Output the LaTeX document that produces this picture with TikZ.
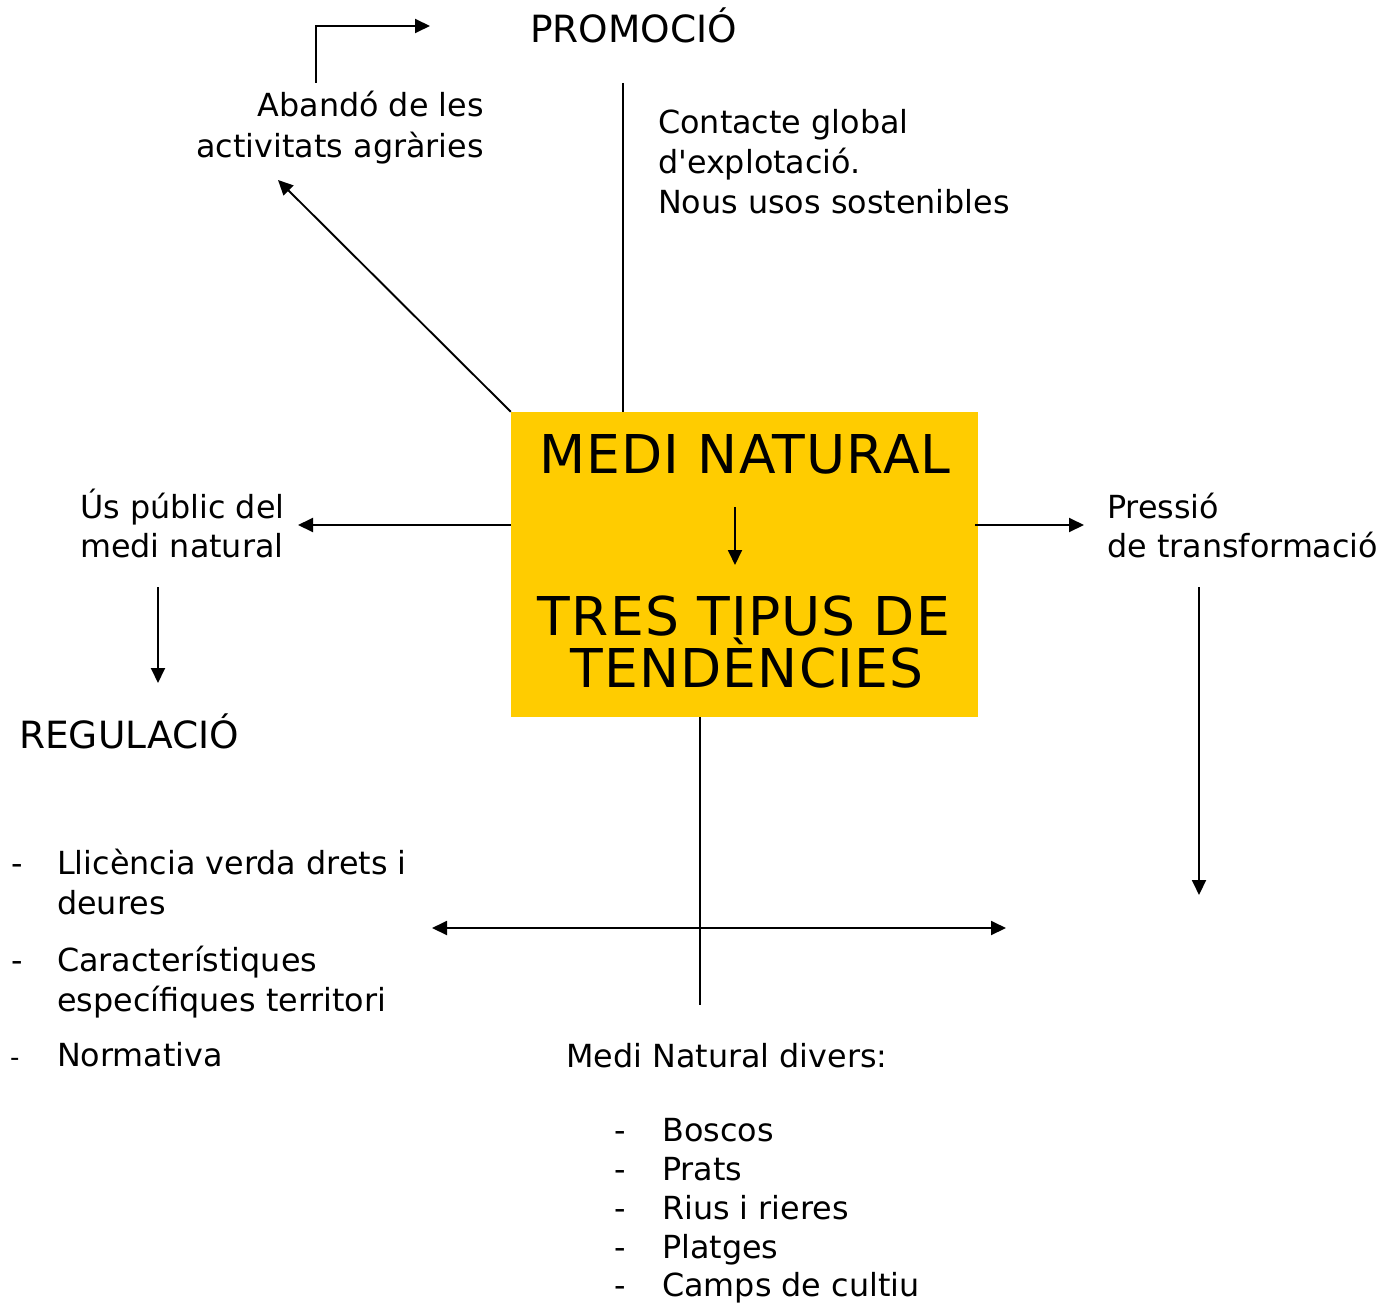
\documentclass[tikz,border=0pt]{standalone}
\usepackage{fontspec}
\setmainfont{DejaVu Sans}
\newfontfamily\plainfont{DejaVu Sans}
\newfontfamily\titlefont[LetterSpace=2.2]{DejaVu Sans}
\usetikzlibrary{arrows.meta,calc}
\definecolor{boxyellow}{RGB}{255,204,0}
\tikzset{
  body/.style={font=\fontsize{31.8}{38}\selectfont, inner sep=0pt, anchor=base west},
  bodyr/.style={body, anchor=base east},
  head/.style={font=\fontsize{37.5}{44}\selectfont, inner sep=0pt, anchor=base west},
  title/.style={font=\titlefont\fontsize{53.5}{60}\selectfont, inner sep=0pt, anchor=base},
  conn/.style={line width=1.9pt},
  arr/.style={conn, -{Triangle[length=15pt,width=14pt]}},
  dbl/.style={conn, {Triangle[length=15pt,width=14pt]}-{Triangle[length=15pt,width=14pt]}},
}
\begin{document}
\begin{tikzpicture}[x=1pt,y=-1pt]
\useasboundingbox (0,0) rectangle (1396,1303);
% central box
\node[fill=boxyellow, minimum width=467pt, minimum height=305pt, inner sep=0pt] (box) at (744.5,564.5) {};
\node[title] (t1) at (745,473) {MEDI NATURAL};
\node[title] (t2) at (744,635) {TRES TIPUS DE};
\node[title] (t3) at (747,687) {TENDÈNCIES};
\coordinate (ia) at (735,507);
\coordinate (ib) at (735,565);
\draw[arr] (ia) -- (ib);

% top
\node[head] (prom) at (530,43) {PROMOCIÓ};
\node[bodyr] (ab1) at (484,117) {Abandó de les};
\node[bodyr] (ab2) at (484,157) {activitats agràries};
\node[body] (ct1) at (658,133) {Contacte global};
\node[body, font=\plainfont\fontsize{31.8}{38}\selectfont] (ct2) at (658,173) {d'explotació.};
\node[body] (ct3) at (658,213) {Nous usos sostenibles};

% left / right
\node[body] (us1) at (80,518) {Ús públic del};
\node[body] (us2) at (80,557) {medi natural};
\node[body] (pr1) at (1107,518) {Pressió};
\node[body] (pr2) at (1107,557) {de transformació};
\node[head] (reg) at (19,748) {REGULACIÓ};

% regulation list
\node[body] (d1) at (11,874) {-};
\node[body] (l1) at (57,874) {Llicència verda drets i};
\node[body] (l1b) at (57,914) {deures};
\node[body] (d2) at (11,971) {-};
\node[body] (l2) at (57,971) {Característiques};
\node[body] (l2b) at (57,1011) {específiques territori};
\node[body, font=\fontsize{26}{30}\selectfont] (d3) at (10,1066) {-};
\node[body] (l3) at (57,1066) {Normativa};

% bottom list
\node[body] (md) at (566,1067) {Medi Natural divers:};
\node[body] (b1d) at (614,1141) {-};
\node[body] (b1) at (662,1141) {Boscos};
\node[body] (b2d) at (614,1180) {-};
\node[body] (b2) at (662,1180) {Prats};
\node[body] (b3d) at (614,1219) {-};
\node[body] (b3) at (662,1219) {Rius i rieres};
\node[body] (b4d) at (614,1258) {-};
\node[body] (b4) at (662,1258) {Platges};
\node[body] (b5d) at (614,1296) {-};
\node[body] (b5) at (662,1296) {Camps de cultiu};

% connectors
\coordinate (vt) at (623,83);
\draw[conn] (vt) -- (vt |- box.north);
\coordinate (diagtip) at (278,180);
\draw[arr] (box.north west) -- (diagtip);
\coordinate (elb0) at (316,83);
\coordinate (elb1) at (316,26);
\coordinate (elb2) at (430,26);
\draw[arr] (elb0) -- (elb1) -- (elb2);
\coordinate (ltip) at (298,525);
\draw[arr] (box.west |- ltip) -- (ltip);
\coordinate (rtip) at (1084,525);
\draw[arr] ($(box.east |- rtip)+(-3,0)$) -- (rtip);
\coordinate (us0) at (158,587);
\coordinate (us3) at (158,683);
\draw[arr] (us0) -- (us3);
\coordinate (pr0) at (1199,587);
\coordinate (pr3) at (1199,895);
\draw[arr] (pr0) -- (pr3);
\coordinate (vb) at (700,1005);
\draw[conn] (box.south -| vb) -- (vb);
\coordinate (hl) at (432,928);
\coordinate (hr) at (1006,928);
\draw[dbl] (hl) -- (hr);
\end{tikzpicture}
\end{document}
